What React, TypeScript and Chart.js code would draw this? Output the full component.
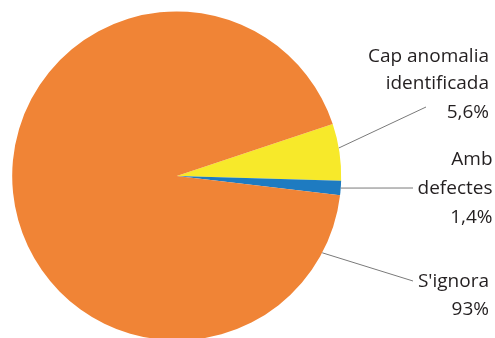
import React, { useEffect, useRef } from "react";
import { Chart, registerables } from "chart.js";

Chart.register(...registerables);

const categories = ["Cap anomalia identificada", "Amb defectes", "S'ignora"];
const values = [5.6, 1.4, 93];
const labelTexts = [
  ["Cap anomalia", "identificada", "5,6%"],
  ["Amb", "defectes", "1,4%"],
  ["S'ignora", "93%"],
];
const colors = ["#F7E92A", "#1E7BC1", "#F08436"];

// label layout (text positions and leader line endpoints)
const labelLayout = [
  { right: 489, ys: [57, 84, 113], anchor: 0.43, end: { x: 426, y: 107 } },
  { right: 492.5, ys: [160, 189, 218], anchor: 0.5, end: { x: 413, y: 188 } },
  { right: 489, ys: [282, 310], anchor: 0.063, end: { x: 413, y: 281 } },
];

const labelPlugin = {
  id: "sideLabels",
  afterDraw(chart: any) {
    const ctx = chart.ctx;
    const meta = chart.getDatasetMeta(0);
    ctx.save();
    meta.data.forEach((arc: any, i: number) => {
      const lay = labelLayout[i];
      const { x, y, startAngle, endAngle, outerRadius } = arc.getProps(
        ["x", "y", "startAngle", "endAngle", "outerRadius"],
        true
      );
      const a = startAngle + (endAngle - startAngle) * lay.anchor;
      const sx = x + Math.cos(a) * outerRadius;
      const sy = y + Math.sin(a) * outerRadius;
      ctx.strokeStyle = "#7a7a7a";
      ctx.lineWidth = 1;
      ctx.beginPath();
      ctx.moveTo(sx, sy);
      ctx.lineTo(lay.end.x, lay.end.y);
      ctx.stroke();
      ctx.fillStyle = "#231F20";
      ctx.font = "19px 'Open Sans'";
      ctx.textAlign = "right";
      ctx.textBaseline = "middle";
      labelTexts[i].forEach((t, j) => {
        ctx.fillText(t, lay.right, lay.ys[j]);
      });
    });
    ctx.restore();
  },
};

export default function App() {
  const ref = useRef<HTMLCanvasElement | null>(null);
  useEffect(() => {
    if (!ref.current) return;
    const chart = new Chart(ref.current, {
      type: "pie",
      data: {
        labels: categories,
        datasets: [
          {
            data: values,
            backgroundColor: colors,
            borderWidth: 0,
            hoverOffset: 0,
          },
        ],
      },
      options: {
        responsive: false,
        animation: false,
        events: [],
        rotation: 71.53,
        layout: { padding: { left: 12.2, top: 11.5, right: 153.8, bottom: 4.5 } },
        plugins: {
          legend: { display: false },
          tooltip: { enabled: false },
        },
      },
      plugins: [labelPlugin],
    });
    return () => chart.destroy();
  }, []);
  return (
    <div
      style={{
        position: "absolute",
        left: 0,
        top: 0,
        width: 495,
        height: 338,
        overflow: "hidden",
        background: "#fff",
      }}
    >
      <canvas ref={ref} width={495} height={345} style={{ width: 495, height: 345, display: "block" }} />
    </div>
  );
}
